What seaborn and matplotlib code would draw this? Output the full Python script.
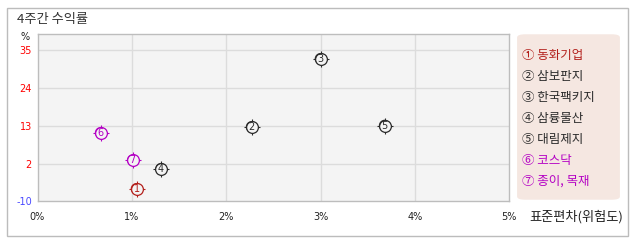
import matplotlib
matplotlib.use("Agg")
import matplotlib.pyplot as plt
import seaborn as sns
import pandas as pd
from matplotlib.patches import FancyBboxPatch, Rectangle

# ---- data ----
labels = ["1", "2", "3", "4", "5", "6", "7"]
names = ["동화기업", "삼보판지", "한국팩키지", "삼륭물산", "대림제지", "코스닥", "종이, 목재"]
circled = ["①", "②", "③", "④", "⑤", "⑥", "⑦"]
std_dev = [1.05, 2.27, 3.00, 1.31, 3.68, 0.67, 1.01]
returns = [-5.1, 12.8, 32.5, 0.7, 13.2, 11.1, 3.2]
groups = ["stock", "peer", "peer", "peer", "peer", "index", "index"]
x_ticks = [0, 1, 2, 3, 4, 5]
x_tick_labels = ["0%", "1%", "2%", "3%", "4%", "5%"]
y_ticks = [2, 13, 24, 35]
y_tick_labels = ["2", "13", "24", "35"]
y_bottom_label = "-10"

RED = "#b3201c"
BLACK = "#2a2a2a"
MAG = "#b400c4"
palette = {"stock": RED, "peer": BLACK, "index": MAG}
BG = "#f4f4f4"

df = pd.DataFrame({"x": std_dev, "y": returns, "g": groups, "lab": labels})

sns.set_theme(style="white")
plt.rcParams["font.family"] = ["Noto Sans CJK KR", "DejaVu Sans"]

W, H = 638, 242
fig = plt.figure(figsize=(W / 100, H / 100), dpi=100)
fig.patch.set_facecolor("white")

# outer border
fig.add_artist(Rectangle((6.5 / W, 1 - 235.5 / H), 621 / W, 228 / H,
                         transform=fig.transFigure, fill=False,
                         edgecolor="#bcbcbc", linewidth=1.0))

left, right, top, bottom = 37.5, 509.3, 34.3, 201.3
ax = fig.add_axes([left / W, 1 - bottom / H, (right - left) / W, (bottom - top) / H])
ax.set_facecolor(BG)

ymin, ymax = -8.7, 39.6
ax.set_xlim(0, 5)
ax.set_ylim(ymin, ymax)

for v in x_ticks[1:-1]:
    ax.axvline(v, color="#dcdcdc", lw=1.0, zorder=0)
for v in y_ticks:
    ax.axhline(v, color="#dcdcdc", lw=1.0, zorder=0)

# markers: tick crosses, then filled circles, then digits
for g, c in palette.items():
    sub = df[df.g == g]
    ax.scatter(sub.x, sub.y, marker="+", s=135, color=c, linewidths=0.8, zorder=2)
sns.scatterplot(data=df, x="x", y="y", hue="g", palette=palette, ax=ax,
                marker="o", s=72, legend=False, zorder=3,
                facecolor=BG, linewidth=0)
for g, c in palette.items():
    sub = df[df.g == g]
    ax.scatter(sub.x, sub.y, marker="o", s=72, facecolors=BG, edgecolors=c,
               linewidths=0.9, zorder=3)
for _, r in df.iterrows():
    ax.text(r.x, r.y, r.lab, color=palette[r.g], ha="center", va="center",
            fontsize=7, family=["DejaVu Sans"], zorder=4)

ax.set_xlabel("")
ax.set_ylabel("")
ax.set_xticks(x_ticks)
ax.set_xticklabels(x_tick_labels, fontsize=7, family=["DejaVu Sans"], color="#222222")
ax.set_yticks([ymin] + y_ticks)
ax.set_yticklabels([y_bottom_label] + y_tick_labels, fontsize=7, family=["DejaVu Sans"])
for t in ax.get_yticklabels():
    t.set_color("#4a4aff" if t.get_text().startswith("-") else "#ff0000")
ax.tick_params(axis="both", length=0, pad=4)
ax.tick_params(axis="x", pad=8)
for s in ax.spines.values():
    s.set_color("#bdbdbd")
    s.set_linewidth(1.0)

# texts
fig.text(17 / W, 1 - 19 / H, "4주간 수익률", fontsize=9.5, color="#333333",
         ha="left", va="center")
fig.text(25 / W, 1 - 37 / H, "%", fontsize=7, color="#222222", ha="center",
         va="center", family=["DejaVu Sans"])
fig.text(623 / W, 1 - 217 / H, "표준편차(위험도)", fontsize=9.5, color="#222222",
         ha="right", va="center")

# legend box
fig.add_artist(FancyBboxPatch((519 / W, 1 - 199 / H), 99 / W, 164 / H,
                              boxstyle="round,pad=0.003,rounding_size=0.013",
                              transform=fig.transFigure, facecolor="#f5e7e1",
                              edgecolor="none"))
leg_colors = [palette[g] for g in groups]
for i, (cc, nm, col) in enumerate(zip(circled, names, leg_colors)):
    y = 55 + i * 21.1
    fig.text(522 / W, 1 - y / H, f"{cc} {nm}", fontsize=9, color=col,
             ha="left", va="center")

fig.savefig("out.png", dpi=100, facecolor="white")
